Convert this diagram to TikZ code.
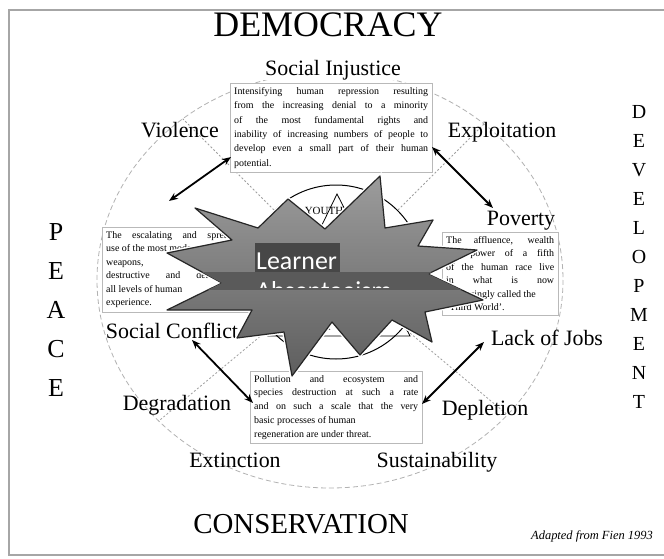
\documentclass[tikz,border=0pt]{standalone}
\usepackage{fontspec}
\setmainfont{Liberation Serif}
\newfontfamily\learnerfont{Carlito}
\usepackage{xcolor}
\usepackage{tikz}
\usetikzlibrary{arrows.meta}

\definecolor{burstlight}{HTML}{9C9C9C}
\definecolor{burstdark}{HTML}{5E5E5E}
\definecolor{burstband}{HTML}{5A5A5A}

\tikzset{
  dimension/.style={font=\fontsize{36}{36}\selectfont, inner sep=0pt},
  letter/.style={font=\fontsize{26}{26}\selectfont, inner sep=0pt},
  devletter/.style={font=\fontsize{20}{20}\selectfont, inner sep=0pt},
  issue/.style={font=\fontsize{22}{22}\selectfont, inner sep=1pt, text height=15pt, text depth=4pt},
  crisisbox/.style={draw=gray!55, fill=white, align=justify, inner sep=4pt, anchor=north west},
  link/.style={{Stealth[length=9pt,width=7pt]}-{Stealth[length=9pt,width=7pt]}, line width=1.8pt},
  sector/.style={gray!75, dash pattern=on 2pt off 2pt, line width=0.8pt},
  learnertext/.style={text=white, font=\learnerfont\fontsize{26}{26}\selectfont, inner sep=0pt, anchor=base west}
}

\newcommand{\burst}{(380,176) -- (385,228) -- (433,220) -- (418,246) -- (477,250) -- (428,274) -- (483,300) -- (425,312) -- (432,342) -- (392,320) -- (360,355) -- (332,322) -- (292,376) -- (284,332) -- (237,338) -- (252,310) -- (167,310) -- (222,283) -- (167,253) -- (232,240) -- (195,208) -- (258,228) -- (288,199) -- (325,229) -- cycle}

\begin{document}
\begin{tikzpicture}[x=1bp,y=-1bp]
\useasboundingbox (0,0) rectangle (664,559);
\fill[white] (0,0) rectangle (664,559);
\draw[gray!70, line width=1.5pt] (9,10) rectangle (690,555);

    % the four dimensions
    \node[dimension] (democracy) at (328,25) {DEMOCRACY};
    \node[font=\fontsize{29}{29}\selectfont, inner sep=0pt] (conservation) at (301,524) {CONSERVATION};
    \foreach \l [count=\i] in {P,E,A,C,E}
        \node[letter] (peace\i) at (56,{193+39*\i}) {\l};
    \foreach \l [count=\i] in {D,E,V,E,L,O,P,M,E,N,T}
        \node[devletter] (develop\i) at (639,{83+29*\i}) {\l};

    % outer ring and sectors
    \coordinate (hub) at (336,272);
    \draw[gray!60, dash pattern=on 5pt off 3pt, line width=0.8pt] (330,280) ellipse (233 and 208);
    \coordinate (ulin) at (274,210);
    \coordinate (ulout) at (100,36);
    \coordinate (urin) at (398,210);
    \coordinate (urout) at (572,36);
    \coordinate (llin) at (269,329);
    \coordinate (llout) at (106,465);
    \coordinate (lrin) at (404,328);
    \coordinate (lrout) at (566,464);
    \begin{scope}
    \clip (330,280) ellipse (233 and 208);
    \draw[sector] (ulin) -- (ulout);
    \draw[sector] (urin) -- (urout);
    \draw[sector] (llin) -- (llout);
    \draw[sector] (lrin) -- (lrout);
    \end{scope}

    % inner circle
    \draw[line width=1pt] (hub) circle (87);
    \draw[line width=0.8pt] (337,194) -- (268,336) -- (410,336) -- cycle;
    \node[font=\fontsize{11}{11}\selectfont, inner sep=0pt] (youth) at (324,211) {YOUTH};
    \node[font=\fontsize{11}{11}\selectfont, inner sep=0pt, anchor=east] (earth) at (331,327) {EARTH};

    % the four crises
    \node[crisisbox, text width=194bp, font=\fontsize{10}{14.5}\selectfont] (injusticebox) at (230,83)
        {Intensifying human repression resulting\linebreak from the increasing denial to a minority\linebreak of the most fundamental rights and\linebreak inability of increasing numbers of people to\linebreak develop even a small part of their human\linebreak potential.};
    \node[crisisbox, text width=140bp, font=\fontsize{10}{13.6}\selectfont] (violencebox) at (102,227)
        {The escalating and spreading\linebreak use of the most modern\newline weapons,\newline destructive and deadly at\linebreak all levels of human\newline experience.};
    \node[crisisbox, text width=108bp, font=\fontsize{10}{13.6}\selectfont] (povertybox) at (442,232)
        {The affluence, wealth\linebreak and power of a fifth\linebreak of the human race live\linebreak in what is now\linebreak increasingly called the\newline `Third World'.};
    \node[crisisbox, text width=164bp, font=\fontsize{10}{13.8}\selectfont] (degradebox) at (250,371)
        {Pollution and ecosystem and\linebreak species destruction at such a rate\linebreak and on such a scale that the very\linebreak basic processes of human\newline regeneration are under threat.};

    % the issues round the ring
    \node[issue, fill=white] (injustice) at (333,70) {Social Injustice};
    \node[issue] (violence) at (180,132) {Violence};
    \node[issue] (exploitation) at (502,132) {Exploitation};
    \node[issue] (poverty) at (521,220) {Poverty};
    \node[issue] (lackjobs) at (547,340) {Lack of Jobs};
    \node[issue] (conflict) at (172,333) {Social Conflict};
    \node[issue] (degradation) at (177,405) {Degradation};
    \node[issue] (depletion) at (485,410) {Depletion};
    \node[issue] (extinction) at (235,462) {Extinction};
    \node[issue] (sustain) at (437,462) {Sustainability};

    \node[font=\itshape\fontsize{12.5}{12.5}\selectfont, anchor=west, inner sep=0pt] (source) at (531,536) {Adapted from Fien 1993};

    % draw the arrows
    \coordinate (v1) at (169,201);
    \coordinate (v2) at (231,157);
    \coordinate (e1) at (432,147);
    \coordinate (e2) at (493,208);
    \coordinate (c1) at (192,340);
    \coordinate (c2) at (253,403);
    \coordinate (j1) at (484,342);
    \coordinate (j2) at (422,404);
    \draw[link] (v1) -- (v2);
    \draw[link] (e1) -- (e2);
    \draw[link] (c1) -- (c2);
    \draw[link] (j1) -- (j2);

    % the burst on top
    \draw[line width=1.2pt, draw=black!85, line join=round, top color=burstlight, bottom color=burstdark,
          preaction={draw=white, line width=4pt}] \burst;
    \begin{scope}
    \clip \burst;
    \fill[burstband] (150,272) rectangle (490,290);
    \end{scope}
    \fill[black!72] (255,243) rectangle (340,272);
    \node[learnertext] (learner) at (256,269) {Learner};
    \begin{scope}
    \clip (250,272) rectangle (420,287);
    \node[learnertext] (absent) at (256,299) {Absenteeism};
    \end{scope}

\end{tikzpicture}
\end{document}
